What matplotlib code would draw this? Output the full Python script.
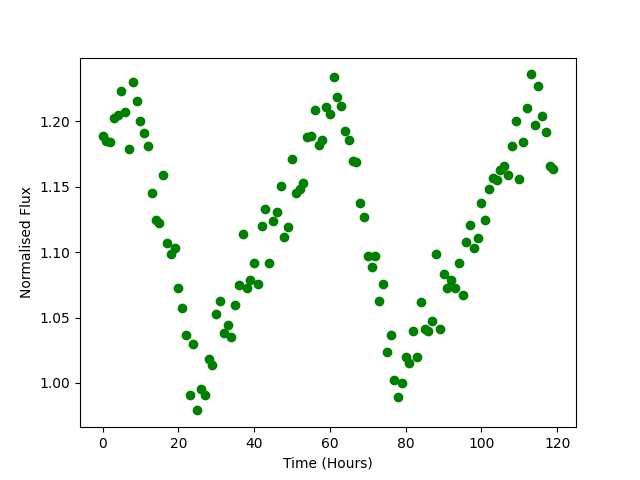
import matplotlib
matplotlib.use("Agg")
import matplotlib.pyplot as plt
import numpy as np

time_hours = list(range(120))
flux = [
    1.189, 1.185, 1.184, 1.203, 1.205, 1.223, 1.207, 1.179, 1.230, 1.216,
    1.200, 1.191, 1.181, 1.145, 1.125, 1.122, 1.159, 1.107, 1.099, 1.103,
    1.073, 1.057, 1.037, 0.991, 1.030, 0.979, 0.995, 0.991, 1.018, 1.014,
    1.053, 1.063, 1.038, 1.044, 1.035, 1.060, 1.075, 1.114, 1.073, 1.079,
    1.092, 1.076, 1.120, 1.133, 1.092, 1.124, 1.131, 1.151, 1.112, 1.119,
    1.171, 1.145, 1.148, 1.153, 1.188, 1.189, 1.209, 1.182, 1.186, 1.211,
    1.206, 1.234, 1.219, 1.212, 1.193, 1.186, 1.170, 1.169, 1.138, 1.127,
    1.097, 1.089, 1.097, 1.063, 1.076, 1.024, 1.037, 1.002, 0.989, 1.000,
    1.020, 1.015, 1.040, 1.020, 1.062, 1.041, 1.040, 1.047, 1.099, 1.041,
    1.083, 1.073, 1.079, 1.073, 1.092, 1.067, 1.108, 1.121, 1.103, 1.111,
    1.138, 1.125, 1.148, 1.157, 1.155, 1.163, 1.166, 1.159, 1.181, 1.200,
    1.156, 1.184, 1.210, 1.236, 1.197, 1.227, 1.204, 1.192, 1.166, 1.164,
]

fig, ax = plt.subplots(figsize=(6.4, 4.8), dpi=100)
ax.plot(time_hours, flux, 'o', color='green')
ax.set_xlabel('Time (Hours)')
ax.set_ylabel('Normalised Flux')
fig.savefig('out.png', dpi=100)
